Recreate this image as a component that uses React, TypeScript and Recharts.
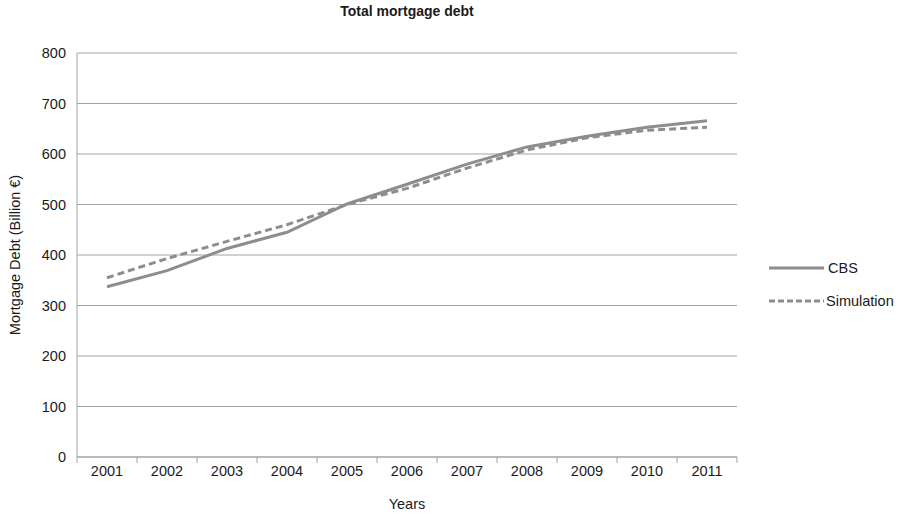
import React from "react";
import { LineChart, Line, XAxis, YAxis, CartesianGrid } from "recharts";

const years = ["2001", "2002", "2003", "2004", "2005", "2006", "2007", "2008", "2009", "2010", "2011"];
const cbsDebt = [337, 369, 413, 445, 501, 540, 580, 614, 635, 653, 666];
const simulationDebt = [355, 393, 427, 460, 500, 532, 572, 608, 632, 647, 653];
const yTicks = [0, 100, 200, 300, 400, 500, 600, 700, 800];

const seriesNames = ["CBS", "Simulation"];

const data = years.map((year, i) => ({ year, cbs: cbsDebt[i], simulation: simulationDebt[i] }));

const FONT = '"Liberation Sans", Arial, sans-serif';
const LINE = "#8d8d8f";
const GRID = "#a3a3a3";
const TEXT = "#1a1a1a";
const HALF_BAND = 30;

const YearTick = (props: any) => {
  const { x, y, payload } = props;
  const last = payload.value === years[years.length - 1];
  return (
    <g>
      <line x1={x - HALF_BAND} y1={y} x2={x - HALF_BAND} y2={y + 6} stroke={GRID} />
      {last && <line x1={x + HALF_BAND} y1={y} x2={x + HALF_BAND} y2={y + 6} stroke={GRID} />}
      <text x={x} y={y + 19} textAnchor="middle" fontSize={14.5} fill={TEXT} fontFamily={FONT}>
        {payload.value}
      </text>
    </g>
  );
};

const App = () => (
  <div style={{ position: "absolute", left: 0, top: 0, width: 914, height: 517, background: "#fff", fontFamily: FONT }}>
    <div
      style={{
        position: "absolute",
        left: 0,
        width: 814,
        top: 3,
        textAlign: "center",
        fontSize: 14,
        fontWeight: "bold",
        color: TEXT,
      }}
    >
      Total mortgage debt
    </div>
    <LineChart width={914} height={517} data={data} margin={{ top: 53, right: 177, bottom: 0, left: 0 }}>
      <CartesianGrid vertical={false} stroke={GRID} />
      <XAxis
        dataKey="year"
        height={60}
        padding={{ left: HALF_BAND, right: HALF_BAND }}
        axisLine={{ stroke: GRID }}
        tickLine={false}
        tickSize={0}
        tickMargin={0}
        interval={0}
        tick={<YearTick />}
        label={({ viewBox }: any) => (
          <text
            x={viewBox.x + viewBox.width / 2}
            y={viewBox.y + 52}
            textAnchor="middle"
            fontSize={14.5}
            fill={TEXT}
            fontFamily={FONT}
          >
            Years
          </text>
        )}
      />
      <YAxis
        width={77}
        domain={[0, 800]}
        ticks={yTicks}
        axisLine={{ stroke: GRID }}
        tickLine={false}
        tickSize={0}
        tickMargin={11}
        tick={{ fill: TEXT, fontSize: 14.5, fontFamily: FONT }}
        label={({ viewBox }: any) => {
          const cx = 15;
          const cy = viewBox.y + viewBox.height / 2;
          return (
            <text
              x={cx}
              y={cy}
              transform={`rotate(-90, ${cx}, ${cy})`}
              textAnchor="middle"
              dominantBaseline="central"
              fontSize={14.5}
              fill={TEXT}
              fontFamily={FONT}
            >
              Mortgage Debt (Billion €)
            </text>
          );
        }}
      />
      <YAxis yAxisId="border" orientation="right" width={0} tick={false} tickLine={false} axisLine={{ stroke: GRID }} />
      <Line
        type="linear"
        dataKey="cbs"
        name={seriesNames[0]}
        stroke={LINE}
        strokeWidth={3}
        dot={false}
        isAnimationActive={false}
      />
      <Line
        type="linear"
        dataKey="simulation"
        name={seriesNames[1]}
        stroke={LINE}
        strokeWidth={3}
        strokeDasharray="7 4"
        dot={false}
        isAnimationActive={false}
      />
    </LineChart>
    <svg style={{ position: "absolute", left: 760, top: 250 }} width={154} height={70}>
      <line x1={9} y1={18} x2={64} y2={18} stroke={LINE} strokeWidth={3} />
      <text x={68} y={23} fontSize={14.5} fill={TEXT} fontFamily={FONT}>
        {seriesNames[0]}
      </text>
      <line x1={9} y1={51} x2={64} y2={51} stroke={LINE} strokeWidth={3} strokeDasharray="6 3" />
      <text x={66} y={56} fontSize={14.5} fill={TEXT} fontFamily={FONT}>
        {seriesNames[1]}
      </text>
    </svg>
  </div>
);

export default App;
